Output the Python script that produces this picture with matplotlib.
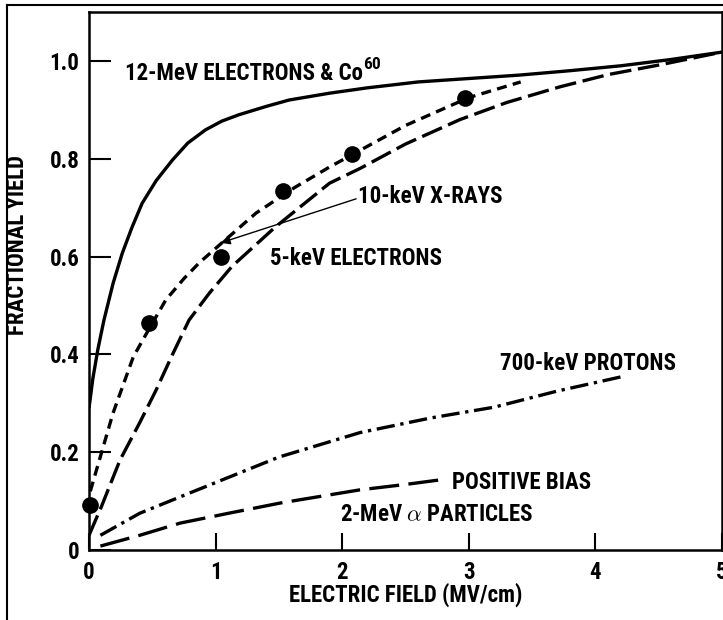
import matplotlib
matplotlib.use("Agg")
import matplotlib.pyplot as plt
from matplotlib import font_manager
from matplotlib.lines import Line2D

# pick a narrow bold face if there is one (the original is a condensed sans)
names = set(font_manager.get_font_names())
FONT = "Liberation Sans"
for cand in ["Roboto Condensed", "Archivo Narrow", "PT Sans Narrow", "Liberation Sans Narrow"]:
    if cand in names:
        FONT = cand
        break
plt.rcParams["font.family"] = [FONT, "DejaVu Sans"]
plt.rcParams["font.weight"] = "bold"
plt.rcParams["mathtext.fontset"] = "cm"

# 12-MeV electrons & Co60 (solid)
mev_x = [0, 0.03, 0.07, 0.118, 0.19, 0.263, 0.34, 0.42, 0.53, 0.658, 0.78, 0.92, 1.05, 1.185,
         1.4, 1.58, 1.9, 2.2, 2.6, 3.0, 3.4, 3.8, 4.2, 4.6, 5.0]
mev_y = [0.29, 0.35, 0.41, 0.47, 0.545, 0.607, 0.66, 0.709, 0.755, 0.797, 0.832, 0.859, 0.877, 0.89,
         0.907, 0.92, 0.934, 0.945, 0.957, 0.964, 0.971, 0.98, 0.99, 1.003, 1.018]

# 10-keV X-rays (short dashes) and measured points
xray_x = [0.01, 0.1, 0.19, 0.35, 0.47, 0.606, 0.75, 0.87, 1.05, 1.32, 1.63, 1.9, 2.14, 2.5, 3.0, 3.41]
xray_y = [0.12, 0.2, 0.28, 0.395, 0.45, 0.511, 0.555, 0.587, 0.628, 0.689, 0.742, 0.783, 0.817, 0.868, 0.925, 0.957]
dots_x = [0.01, 0.47, 1.04, 1.53, 2.08, 2.97]
dots_y = [0.092, 0.464, 0.600, 0.733, 0.81, 0.924]

# 5-keV electrons (long dashes)
kev5_x = [0.0, 0.1, 0.245, 0.4, 0.53, 0.66, 0.79, 0.95, 1.13, 1.47, 1.9, 2.14, 2.5, 2.93, 3.3, 3.72, 4.1, 4.51, 5.0]
kev5_y = [0.03, 0.09, 0.184, 0.26, 0.327, 0.40, 0.47, 0.525, 0.58, 0.66, 0.75, 0.78, 0.83, 0.88, 0.915, 0.947, 0.972, 0.992, 1.018]

# 700-keV protons (dash-dot)
prot_x = [0.09, 0.4, 0.8, 1.5, 2.14, 2.7, 3.2, 3.7, 4.22]
prot_y = [0.03, 0.075, 0.117, 0.19, 0.24, 0.27, 0.292, 0.325, 0.355]

# 2-MeV alpha particles (very long dashes)
alpha_x = [0.09, 0.4, 0.72, 1.1, 1.51, 2.14, 2.5, 2.82]
alpha_y = [0.008, 0.03, 0.055, 0.075, 0.096, 0.123, 0.134, 0.145]

xticks = [0, 1, 2, 3, 4, 5]
yticks = [0, 0.2, 0.4, 0.6, 0.8, 1.0]
ytick_labels = ["0", "0.2", "0.4", "0.6", "0.8", "1.0"]

fig = plt.figure(figsize=(7.23, 6.2), dpi=100)
ax = fig.add_axes([89 / 723, 70 / 620, 633 / 723, 538 / 620])

lw = 2.4
ax.plot(mev_x, mev_y, color="black", lw=lw, solid_capstyle="butt")
ax.plot(xray_x, xray_y, color="black", lw=lw, dashes=(3.0, 1.9))
ax.plot(kev5_x, kev5_y, color="black", lw=lw, dashes=(6.5, 2.0))
ax.plot(prot_x, prot_y, color="black", lw=lw, dashes=(5.5, 1.7, 1, 1.7))
ax.plot(alpha_x, alpha_y, color="black", lw=lw, dashes=(9, 2.8))
ax.plot(dots_x, dots_y, "o", color="black", ms=11, clip_on=False, zorder=5)

fs = 16.5
t = ax.text(0.284, 0.975, "12-MeV ELECTRONS & Co", fontsize=fs, va="center", ha="left")
ax.annotate("60", xy=(1.0, 0.55), xycoords=t, fontsize=12.5, va="bottom", ha="left",
            fontweight="bold")
ax.text(2.125, 0.722, "10-keV X-RAYS", fontsize=fs, va="center", ha="left")
ax.text(1.43, 0.595, "5-keV ELECTRONS", fontsize=fs, va="center", ha="left")
ax.text(3.25, 0.382, "700-keV PROTONS", fontsize=fs, va="center", ha="left")
ax.text(2.87, 0.139, "POSITIVE BIAS", fontsize=fs, va="center", ha="left")
ax.text(1.98, 0.072, r"2-MeV $\alpha$ PARTICLES", fontsize=fs, va="center", ha="left")

ax.annotate("", xy=(1.04, 0.628), xytext=(2.11, 0.718),
            arrowprops=dict(arrowstyle="-|>", color="black", lw=1.0,
                            mutation_scale=14, shrinkA=0, shrinkB=0))

ax.set_xlim(0, 5)
ax.set_ylim(0, 1.1)
ax.set_xticks(xticks)
ax.set_yticks(yticks)
ax.set_yticklabels(ytick_labels)
ax.tick_params(axis="both", direction="in", width=1.5, labelsize=fs, colors="black")
ax.tick_params(axis="x", length=12, pad=8)
ax.tick_params(axis="y", length=16, pad=7)
for sp in ax.spines.values():
    sp.set_linewidth(1.8)

ax.set_xlabel("ELECTRIC FIELD (MV/cm)", fontsize=fs, fontweight="bold")
ax.xaxis.set_label_coords(0.5, -0.06)
ax.set_ylabel("FRACTIONAL YIELD", fontsize=fs, fontweight="bold")
ax.yaxis.set_label_coords(-0.094, 0.567)

# outer frame of the scanned figure (left and top edges)
fig.add_artist(Line2D([7 / 723, 7 / 723], [0, 1 - 5 / 620], transform=fig.transFigure, color="black", lw=1.5))
fig.add_artist(Line2D([7 / 723, 1], [1 - 5 / 620, 1 - 5 / 620], transform=fig.transFigure, color="black", lw=1.5))

fig.savefig("out.png", dpi=100)
